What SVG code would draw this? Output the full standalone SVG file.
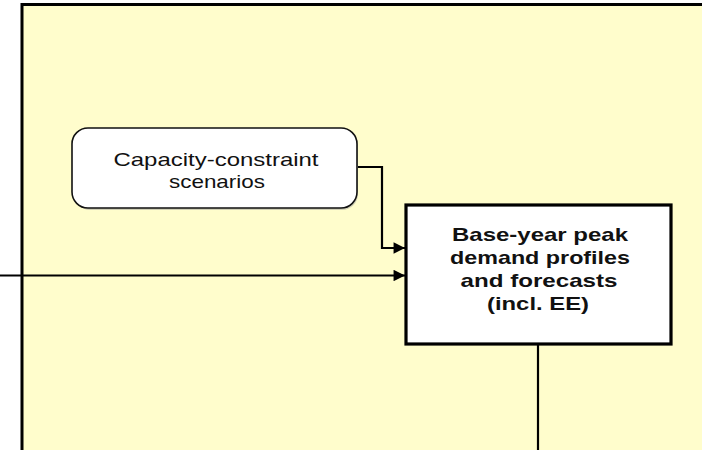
<svg xmlns="http://www.w3.org/2000/svg" width="702" height="450" viewBox="0 0 702 450">
  <style>
    .panel { fill: #FFFDCC; stroke: #000; stroke-width: 3; }
    .soft { fill: #fff; stroke: #111; stroke-width: 1.6; }
    .hard { fill: #fff; stroke: #000; stroke-width: 3.2; }
    .link { fill: none; stroke: #000; stroke-width: 2.2; }
    .lbl { font-family: "Liberation Sans", Arial, sans-serif; font-size: 19px; fill: #111; text-anchor: middle; }
    .lblb { font-family: "Liberation Sans", Arial, sans-serif; font-size: 18.5px; font-weight: bold; fill: #111; text-anchor: middle; }
  </style>
  <defs>
    <marker id="arrow" viewBox="0 0 10 10" refX="10" refY="5" markerWidth="6" markerHeight="5.2" markerUnits="strokeWidth" orient="auto">
      <path d="M0,0 L10,5 L0,10 z" fill="#000"/>
    </marker>
  </defs>

  <rect width="702" height="450" fill="#fff"/>
  <!-- swim-lane panel, continues past the right and bottom edges -->
  <rect class="panel" x="22" y="4.5" width="700" height="470"/>

  <g id="connectors">
    <path class="link" d="M358,167 H382 V248 H405" marker-end="url(#arrow)"/>
    <path class="link" d="M0,275.5 H405" marker-end="url(#arrow)"/>
    <path class="link" d="M538,344 V452"/>
  </g>

  <g id="capacity-scenarios">
    <rect x="74" y="130" width="284" height="80" rx="16" ry="16" fill="#999" opacity="0.45"/>
    <rect class="soft" x="72" y="128" width="285" height="80" rx="16" ry="16"/>
    <text class="lbl" x="216" y="166" textLength="205" lengthAdjust="spacingAndGlyphs">Capacity-constraint</text>
    <text class="lbl" x="217" y="188" textLength="96" lengthAdjust="spacingAndGlyphs">scenarios</text>
  </g>

  <g id="peak-demand">
    <rect class="hard" x="406" y="205" width="265" height="139"/>
    <text class="lblb" x="540" y="241" textLength="176" lengthAdjust="spacingAndGlyphs">Base-year peak</text>
    <text class="lblb" x="540" y="264" textLength="180" lengthAdjust="spacingAndGlyphs">demand profiles</text>
    <text class="lblb" x="539" y="287" textLength="157" lengthAdjust="spacingAndGlyphs">and forecasts</text>
    <text class="lblb" x="538" y="310" textLength="102" lengthAdjust="spacingAndGlyphs">(incl. EE)</text>
  </g>
</svg>
